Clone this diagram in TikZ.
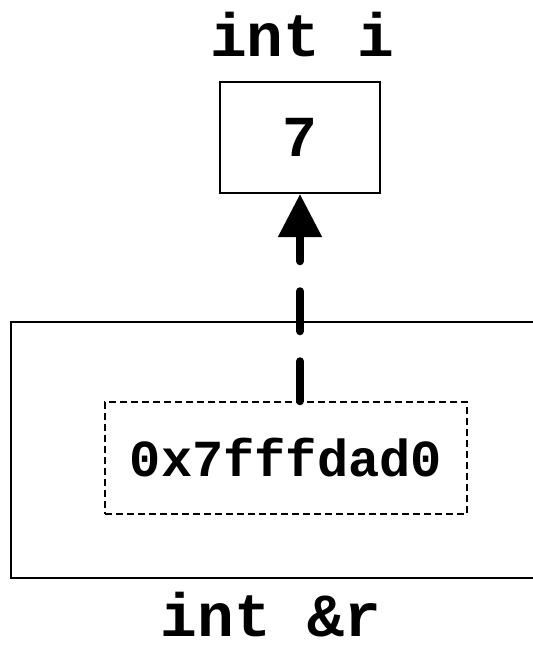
\documentclass[tikz,border=0pt]{standalone}
\usepackage{fontspec}
\setmonofont{Liberation Mono}
\usepackage{tikz}
\usetikzlibrary{arrows.meta}
\tikzset{
    etiq/.style={
           font=\ttfamily\bfseries\fontsize{30.6}{34}\selectfont,
           inner sep=0pt},
    case/.style={
           rectangle,
           draw=black, line width=1pt,
           font=\ttfamily\bfseries\fontsize{29}{33}\selectfont,
           minimum width=80pt,
           minimum height=55.5pt},
    cadre/.style={
           rectangle,
           draw=black, line width=1pt,
           minimum width=294.5pt,
           minimum height=128pt},
    adresse/.style={
           rectangle,
           draw=black, line width=0.75pt,
           dash pattern=on 3.5pt off 2pt,
           font=\ttfamily\bfseries\fontsize{26}{30}\selectfont,
           minimum width=181pt,
           minimum height=56pt},
    pointeur/.style={
           -{Triangle[length=21.5pt,width=21pt]},
           line width=4pt, line cap=round,
           dash pattern=on 20pt off 15pt}
    }
\begin{document}
\begin{tikzpicture}[x=0.5pt,y=-0.5pt]
      \useasboundingbox (0,0) rectangle (533,649);
      \node[etiq] (li) at (302,35) {int i};
      \node[case] (i) at (300,137.5) {7};
      \node[cadre] (r) at (305.5,450) {};
      \node[adresse] (a) at (286,458) {0x7fffdad0};
      \node[etiq] (lr) at (271,615) {int \&r};
      \draw[pointeur] (i.south |- a.north) -- (i.south);
\end{tikzpicture}
\end{document}
